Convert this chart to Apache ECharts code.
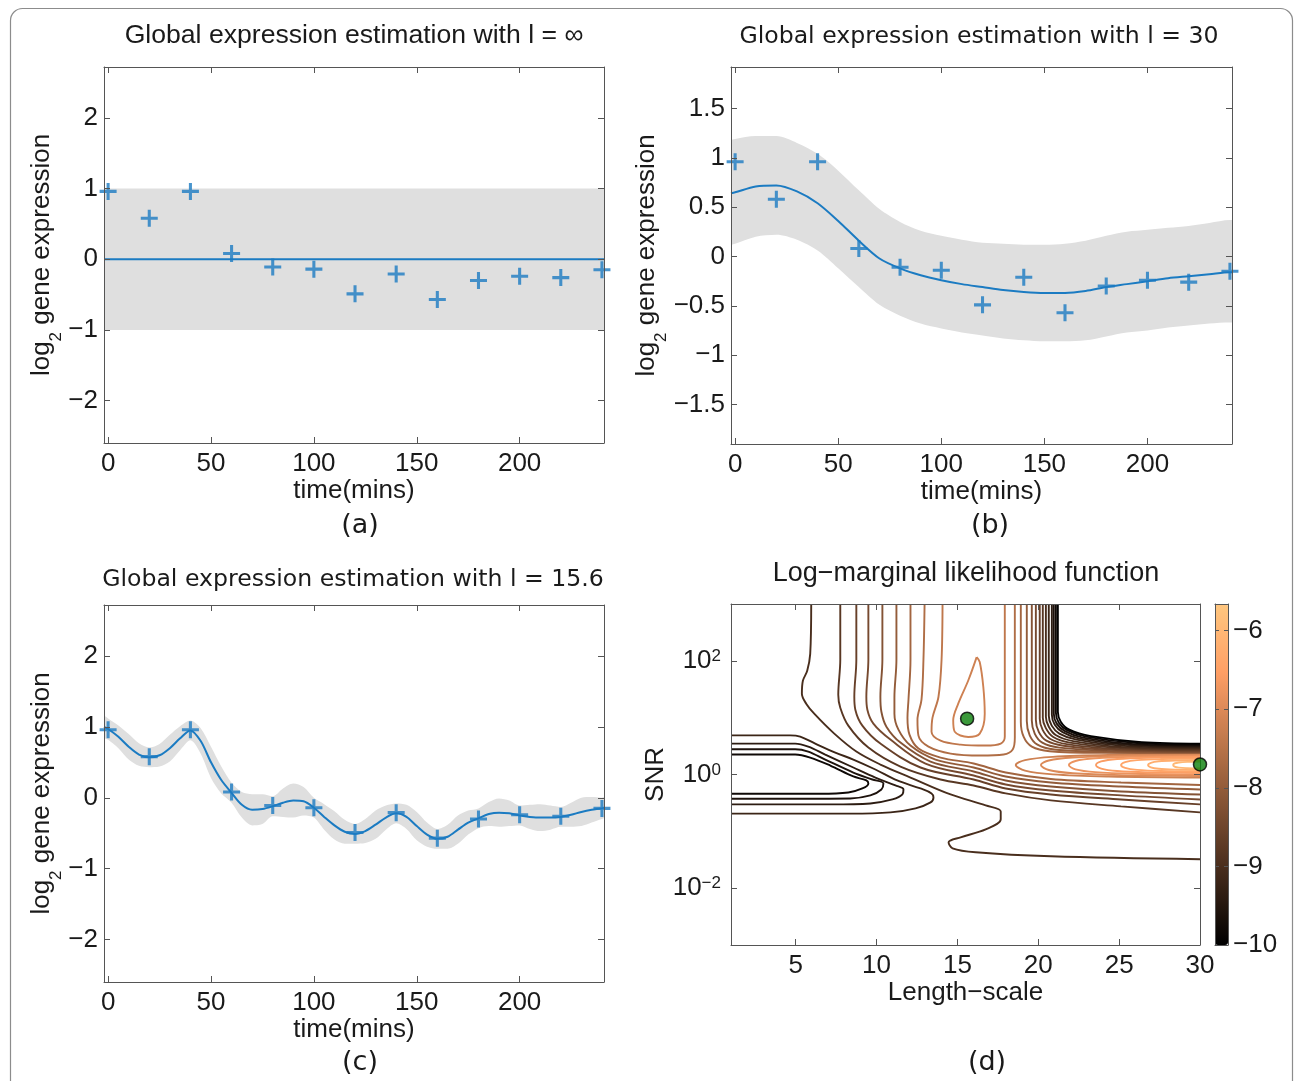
<!DOCTYPE html>
<html>
<head>
<meta charset="utf-8">
<script src="https://cdn.jsdelivr.net/npm/echarts@6.0.0/dist/echarts.min.js"></script>
<style>
html,body{margin:0;padding:0;background:#ffffff;}
#chart{width:1295px;height:1081px;}
</style>
</head>
<body>
<div id="chart"></div>
<script>
// ---------------- data ----------------
const timePoints = [0, 20, 40, 60, 80, 100, 120, 140, 160, 180, 200, 220, 240];
const expression = [0.96, 0.58, 0.96, 0.08, -0.11, -0.14, -0.49, -0.21, -0.57, -0.30, -0.24, -0.26, -0.15];

// (a) l = infinity
const timeA = [-2, 241];
const meanA = [0, 0];
const upperA = [1, 1];
const lowerA = [-1, -1];

// (b) l = 30
const timeB = [-2,0,10,20,30,40,50,60,70,80,90,100,110,120,130,140,150,160,170,180,190,200,210,220,230,240,241];
const meanB = [0.64,0.65,0.71,0.72,0.66,0.54,0.36,0.16,-0.02,-0.12,-0.19,-0.24,-0.28,-0.31,-0.34,-0.36,-0.37,-0.37,-0.35,-0.31,-0.28,-0.25,-0.22,-0.20,-0.18,-0.16,-0.16];
const upperB = [1.18,1.19,1.22,1.22,1.15,1.04,0.87,0.67,0.48,0.35,0.26,0.21,0.17,0.14,0.13,0.12,0.12,0.13,0.16,0.21,0.25,0.27,0.29,0.31,0.34,0.37,0.37];
const lowerB = [0.12,0.13,0.20,0.22,0.17,0.06,-0.12,-0.31,-0.49,-0.60,-0.68,-0.73,-0.77,-0.80,-0.83,-0.85,-0.86,-0.86,-0.85,-0.81,-0.77,-0.75,-0.72,-0.70,-0.68,-0.67,-0.67];

// (c) l = 15.6
const timeC = [-2,0,5,10,15,20,25,30,35,40,45,50,55,60,65,70,75,80,85,90,95,100,105,110,115,120,125,130,135,140,145,150,155,160,165,170,175,180,185,190,195,200,205,210,215,220,225,230,235,240,241];
const meanC = [1.0,0.97,0.86,0.72,0.61,0.57,0.60,0.70,0.84,0.95,0.80,0.50,0.25,0.07,-0.10,-0.17,-0.16,-0.12,-0.07,-0.04,-0.05,-0.14,-0.27,-0.39,-0.48,-0.51,-0.47,-0.38,-0.28,-0.22,-0.27,-0.40,-0.52,-0.58,-0.55,-0.45,-0.35,-0.29,-0.23,-0.21,-0.22,-0.25,-0.27,-0.28,-0.28,-0.27,-0.24,-0.20,-0.17,-0.15,-0.14];
const sdC = [0.16,0.15,0.16,0.18,0.16,0.14,0.16,0.19,0.17,0.14,0.18,0.22,0.19,0.14,0.18,0.22,0.21,0.14,0.20,0.24,0.20,0.14,0.18,0.20,0.17,0.14,0.17,0.20,0.17,0.14,0.17,0.20,0.17,0.14,0.17,0.20,0.17,0.14,0.17,0.20,0.18,0.14,0.17,0.19,0.17,0.14,0.17,0.20,0.18,0.15,0.15];

// tick labels
const timeTicks = [0, 50, 100, 150, 200];
const exprTicks = [-2, -1, 0, 1, 2];
const exprTicksB = [-1.5, -1, -0.5, 0, 0.5, 1, 1.5];
const lengthTicks = [5, 10, 15, 20, 25, 30];
const snrTicks = [0.01, 1, 100];
const colorbarTicks = [-10, -9, -8, -7, -6];

// (d) optima: [length-scale, SNR]
const optima = [[15.6, 9.6], [30, 1.5]];

// (d) contour lines: points are [length-scale, log10(SNR)]
const loopM98 = [[1,0.351],[4.968,0.351],[5.898,0.298],[7.138,0.158],[8.564,-0.035],[9.37,-0.105],[9.494,-0.158],[9.122,-0.246],[8.254,-0.316],[6.518,-0.339],[1,-0.339]];
const loopM96 = [[1,0.444],[4.968,0.444],[5.774,0.404],[6.828,0.263],[8.564,0.035],[9.742,-0.088],[10.424,-0.158],[10.30,-0.263],[9.617,-0.368],[8.377,-0.421],[5.278,-0.426],[1,-0.426]];
const loopM94 = [[1,0.544],[4.968,0.544],[5.774,0.491],[6.828,0.351],[8.564,0.123],[9.928,-0.053],[11.168,-0.193],[11.664,-0.263],[11.60,-0.351],[10.98,-0.439],[9.617,-0.509],[7.20,-0.526],[1,-0.526]];
const loopM92 = [[1,0.689],[4.658,0.689],[5.278,0.667],[6.208,0.544],[7.448,0.386],[8.564,0.263],[9.928,0.088],[11.278,-0.105],[12.718,-0.246],[13.40,-0.333],[13.52,-0.404],[13.34,-0.491],[12.41,-0.596],[10.86,-0.667],[8.377,-0.689],[1,-0.689]];
const lineM90 = [[5.96,3],[5.898,2.123],[5.712,1.825],[5.445,1.649],[5.383,1.421],[5.65,1.246],[6.146,1.07],[7.386,0.719],[8.75,0.404],[10.238,0.175],[12.098,-0.053],[14.578,-0.351],[16.748,-0.544],[17.678,-0.649],[17.678,-0.789],[16.748,-0.965],[15.198,-1.105],[14.454,-1.193],[14.702,-1.298],[16.128,-1.368],[20.777,-1.439],[30,-1.491]];
const leftM88 = [[7.757,3],[7.757,2.018],[7.633,1.404],[7.757,1.175],[8.253,0.86],[9.494,0.474],[11.477,0.14],[13.957,-0.088],[16.003,-0.193],[17.987,-0.333],[20.777,-0.456],[25.117,-0.561],[30,-0.667]];
const leftM86 = [[8.75,3],[8.75,2.018],[8.625,1.368],[8.688,1.14],[9.122,0.86],[10.237,0.544],[12.717,0.123],[16.003,-0.088],[17.987,-0.246],[20.777,-0.351],[25.117,-0.439],[30,-0.526]];
const leftM84 = [[9.494,3],[9.494,2.018],[9.369,1.368],[9.432,1.14],[9.804,0.895],[10.858,0.614],[13.027,0.193],[16.003,-0.018],[17.987,-0.175],[20.777,-0.281],[25.117,-0.368],[30,-0.439]];
const leftM82 = [[10.361,3],[10.361,2.018],[10.237,1.368],[10.299,1.105],[10.609,0.842],[11.477,0.561],[13.337,0.228],[16.003,0.053],[17.987,-0.105],[20.777,-0.211],[25.117,-0.298],[30,-0.351]];
const leftM80 = [[11.229,3],[11.229,2.018],[11.105,1.351],[11.105,1.07],[11.353,0.789],[12.098,0.509],[13.647,0.263],[16.003,0.123],[17.987,-0.035],[20.777,-0.14],[25.117,-0.211],[30,-0.263]];
const leftM78 = [[12.098,3],[12.098,2.018],[11.974,1.316],[11.912,1.0],[12.036,0.702],[12.593,0.456],[13.957,0.298],[16.003,0.193],[17.987,0.035],[20.777,-0.079],[25.117,-0.14],[30,-0.184]];
const arcM76 = [[12.97,3],[12.90,2.018],[12.78,1.316],[12.53,0.965],[12.59,0.684],[13.21,0.491],[14.58,0.368],[16.44,0.333],[17.86,0.351],[18.42,0.439],[18.55,0.649],[18.55,1.316],[18.55,3]];
const arcM74 = [[14.08,3],[14.02,2.018],[13.83,1.368],[13.46,1.0],[13.40,0.754],[13.96,0.596],[15.20,0.526],[16.75,0.509],[17.68,0.544],[17.93,0.667],[17.93,1.246],[17.93,3]];
const dropM72 = [[16.19,2.065],[15.67,1.654],[15.05,1.246],[14.74,0.953],[14.83,0.754],[15.67,0.661],[16.38,0.72],[16.69,1.07],[16.6,1.544],[16.38,1.98],[16.19,2.065]];
const capM72 = [[30,0.36],[24.34,0.344],[20.90,0.311],[19.18,0.254],[18.61,0.167],[19.18,0.068],[20.90,0.002],[24.34,-0.035],[30,-0.053]];
const capM70 = [[30,0.342],[25.12,0.328],[22.14,0.298],[20.65,0.246],[20.16,0.167],[20.65,0.079],[22.14,0.022],[25.12,-0.011],[30,-0.026]];
const capM68 = [[30,0.325],[25.99,0.312],[23.53,0.285],[22.30,0.238],[21.89,0.167],[22.30,0.091],[23.53,0.042],[25.99,0.014],[30,0.0]];
const capM66 = [[30,0.307],[26.82,0.296],[24.87,0.272],[23.89,0.230],[23.57,0.167],[23.89,0.104],[24.87,0.061],[26.82,0.037],[30,0.026]];
const capM64 = [[30,0.281],[27.60,0.272],[26.11,0.253],[25.37,0.218],[25.12,0.167],[25.37,0.116],[26.11,0.081],[27.60,0.061],[30,0.053]];
const capM62 = [[30,0.254],[28.43,0.247],[27.45,0.232],[26.96,0.206],[26.79,0.167],[26.96,0.127],[27.45,0.101],[28.43,0.086],[30,0.079]];
const capM60 = [[30,0.228],[29.21,0.223],[28.69,0.212],[28.43,0.195],[28.34,0.167],[28.43,0.139],[28.69,0.121],[29.21,0.111],[30,0.105]];
const rightM78 = [[18.92,3],[18.92,0.93],[19.1,0.66],[19.6,0.49],[20.7,0.41],[23.9,0.38],[30,0.377]];
const rightM80 = [[19.29,3],[19.29,0.94],[19.47,0.69],[19.95,0.525],[21.0,0.44],[24.2,0.396],[30,0.386]];
const rightM82 = [[19.60,3],[19.60,0.95],[19.78,0.72],[20.25,0.56],[21.3,0.472],[24.5,0.412],[30,0.395]];
const rightM84 = [[19.85,3],[19.85,0.965],[20.03,0.75],[20.5,0.595],[21.55,0.507],[24.8,0.43],[30,0.404]];
const rightM86 = [[20.09,3],[20.09,0.98],[20.27,0.785],[20.72,0.63],[21.75,0.535],[25.0,0.447],[30,0.421]];
const rightM88 = [[20.28,3],[20.28,1.0],[20.46,0.82],[20.9,0.665],[21.95,0.56],[25.1,0.465],[30,0.439]];
const rightM90 = [[20.47,3],[20.47,1.015],[20.65,0.84],[21.1,0.69],[22.15,0.588],[25.3,0.482],[30,0.456]];
const rightM92 = [[20.65,3],[20.65,1.035],[20.83,0.86],[21.3,0.72],[22.35,0.614],[25.5,0.5],[30,0.474]];
const rightM94 = [[20.84,3],[20.84,1.053],[21.02,0.877],[21.5,0.746],[22.55,0.632],[25.7,0.518],[30,0.491]];
const rightM96 = [[20.96,3],[20.96,1.07],[21.14,0.895],[21.65,0.763],[22.75,0.649],[25.9,0.535],[30,0.509]];
const rightM98 = [[21.09,3],[21.09,1.088],[21.27,0.912],[21.78,0.781],[22.95,0.667],[26.1,0.553],[30,0.526]];
const rightM100 = [[21.21,3],[21.21,1.105],[21.39,0.93],[21.92,0.789],[23.26,0.675],[26.4,0.57],[30,0.544]];

const contourLevels = [-9.8,-9.6,-9.4,-9.2,-9.0,-8.8,-8.6,-8.4,-8.2,-8.0,-7.8,-7.6,-7.4,-7.2,-7.2,-7.0,-6.8,-6.6,-6.4,-6.2,-6.0,-7.8,-8.0,-8.2,-8.4,-8.6,-8.8,-9.0,-9.2,-9.4,-9.6,-9.8,-10];
const contourPaths = [loopM98,loopM96,loopM94,loopM92,lineM90,leftM88,leftM86,leftM84,leftM82,leftM80,leftM78,arcM76,arcM74,dropM72,capM72,capM70,capM68,capM66,capM64,capM62,capM60,rightM78,rightM80,rightM82,rightM84,rightM86,rightM88,rightM90,rightM92,rightM94,rightM96,rightM98,rightM100];

const titleA = 'Global expression estimation with l = \u221e';
const titleB = 'Global expression estimation with l = 30';
const titleC = 'Global expression estimation with l = 15.6';
const titleD = 'Log\u2212marginal likelihood function';

// ---------------- styling helpers ----------------
const AXC = '#555555';
const TXT = '#1a1a1a';
const BLUE = '#1b7bc2';
const BAND = '#dfdfdf';
const FONT = '"Liberation Sans", Arial, Helvetica, sans-serif';
const FONT2 = '"DejaVu Sans", Verdana, sans-serif';
const CB_MIN = -10, CB_MAX = -5.66;

function copper(v) {
  const t = Math.max(0, Math.min(1, (v - CB_MIN) / (CB_MAX - CB_MIN)));
  const r = Math.min(1, 1.25 * t), g = 0.7812 * t, b = 0.4975 * t;
  return 'rgb(' + Math.round(r * 255) + ',' + Math.round(g * 255) + ',' + Math.round(b * 255) + ')';
}
function fmtNum(v) { return String(Math.round(v * 100) / 100).replace('-', '\u2212'); }
function fmtPow(v) {
  const e = Math.round(Math.log10(v));
  if (e % 2 !== 0) return '';
  return '{b|10}{s|' + (e < 0 ? '\u2212' + (-e) : String(e)) + '}';
}
const powRich = {
  b: {fontSize: 26, fontFamily: FONT, color: TXT, lineHeight: 26, verticalAlign: 'bottom', padding: [7, 0, 0, 0]},
  s: {fontSize: 17, fontFamily: FONT, color: TXT, lineHeight: 17, verticalAlign: 'top'}
};
const subRich = {
  a: {fontSize: 26, fontFamily: FONT, color: TXT, lineHeight: 26, verticalAlign: 'top'},
  s: {fontSize: 17, fontFamily: FONT, color: TXT, lineHeight: 17, verticalAlign: 'top', padding: [19, 0, 0, 0]}
};
const log2Name = '{a|log}{s|2}{a| gene expression}';

function boxAxes(dir, gridIndex, cfg) {
  const common = {
    gridIndex: gridIndex, type: cfg.type || 'value', min: cfg.min, max: cfg.max, z: 5,
    splitLine: {show: false},
    axisLine: {show: true, onZero: false, lineStyle: {color: AXC, width: 1}},
    axisTick: {show: true, inside: true, length: 6, customValues: cfg.ticks, lineStyle: {color: AXC, width: 1}}
  };
  if (cfg.type === 'log') common.logBase = 10;
  const labelCfg = {show: true, customValues: cfg.ticks, formatter: cfg.formatter || fmtNum,
    margin: cfg.margin, fontSize: 26, fontFamily: FONT, color: TXT};
  if (cfg.rich) labelCfg.rich = cfg.rich;
  const main = Object.assign({}, common, {
    position: dir === 'x' ? 'bottom' : 'left',
    axisLabel: labelCfg
  });
  if (cfg.name) {
    main.name = cfg.name;
    main.nameLocation = 'middle';
    main.nameGap = cfg.nameGap;
    main.nameTextStyle = {fontSize: 26, fontFamily: FONT, color: TXT};
    if (cfg.nameRich) main.nameTextStyle.rich = cfg.nameRich;
    if (dir === 'y') main.nameRotate = 90;
  }
  const other = Object.assign({}, common, {position: dir === 'x' ? 'top' : 'right', axisLabel: {show: false}});
  return [main, other];
}

// band: grey area from upper bound down, white area from lower bound down on top of it
function bandSeries(ai, times, lo, hi) {
  return [
    {type: 'line', xAxisIndex: ai, yAxisIndex: ai, data: times.map((t, i) => [t, hi[i]]),
      symbol: 'none', smooth: 0.3, lineStyle: {opacity: 0}, areaStyle: {color: BAND, opacity: 1, origin: 'start'}, silent: true, z: 1},
    {type: 'line', xAxisIndex: ai, yAxisIndex: ai, data: times.map((t, i) => [t, lo[i]]),
      symbol: 'none', smooth: 0.3, lineStyle: {opacity: 0}, areaStyle: {color: '#ffffff', opacity: 1, origin: 'start'}, silent: true, z: 2}
  ];
}
function meanSeries(ai, times, mean) {
  return {type: 'line', xAxisIndex: ai, yAxisIndex: ai, data: times.map((t, i) => [t, mean[i]]),
    symbol: 'none', smooth: 0.3, lineStyle: {color: BLUE, width: 2}, silent: true, z: 3};
}
const PLUS = 'path://M-1,-0.18H-0.18V-1H0.18V-0.18H1V0.18H0.18V1H-0.18V0.18H-1Z';
function markerSeries(ai) {
  return {type: 'scatter', xAxisIndex: ai, yAxisIndex: ai, data: timePoints.map((t, i) => [t, expression[i]]),
    symbol: PLUS, symbolSize: 17, itemStyle: {color: BLUE}, clip: false, silent: true, z: 4};
}

// ---------------- series ----------------
const series = [];
series.push(...bandSeries(0, timeA, lowerA, upperA));
series.push(meanSeries(0, timeA, meanA));
series.push(markerSeries(0));

series.push(...bandSeries(2, timeB, lowerB, upperB));
series.push(meanSeries(2, timeB, meanB));
series.push(markerSeries(2));

const upperC = meanC.map((m, i) => m + sdC[i]);
const lowerC = meanC.map((m, i) => m - sdC[i]);
series.push(...bandSeries(4, timeC, lowerC, upperC));
series.push(meanSeries(4, timeC, meanC));
series.push(markerSeries(4));

contourPaths.forEach((path, k) => {
  series.push({type: 'line', xAxisIndex: 6, yAxisIndex: 6,
    data: path.map(p => [p[0], Math.pow(10, p[1])]),
    symbol: 'none', smooth: 0.35, lineStyle: {color: copper(contourLevels[k]), width: 1.9}, silent: true, z: 2});
});
series.push({type: 'scatter', xAxisIndex: 6, yAxisIndex: 6, data: optima, symbol: 'circle', symbolSize: 13,
  itemStyle: {color: '#0a800a', borderColor: '#000', borderWidth: 1.5}, clip: false, silent: true, z: 6});

const cbSeriesIndex = series.length;
series.push({type: 'scatter', xAxisIndex: 8, yAxisIndex: 9, data: [], silent: true});

// ---------------- axes ----------------
const xAxes = [].concat(
  boxAxes('x', 0, {min: -2, max: 241, ticks: timeTicks, margin: 8, name: 'time(mins)', nameGap: 31}),
  boxAxes('x', 1, {min: -2, max: 241, ticks: timeTicks, margin: 8, name: 'time(mins)', nameGap: 31}),
  boxAxes('x', 2, {min: -2, max: 241, ticks: timeTicks, margin: 8, name: 'time(mins)', nameGap: 31}),
  boxAxes('x', 3, {min: 1, max: 30, ticks: lengthTicks, margin: 8, name: 'Length\u2212scale', nameGap: 32}),
  [
    {gridIndex: 4, type: 'value', min: 0, max: 1, position: 'bottom', z: 6, axisLine: {show: true, onZero: false, lineStyle: {color: AXC}}, axisTick: {show: false}, axisLabel: {show: false}, splitLine: {show: false}},
    {gridIndex: 4, type: 'value', min: 0, max: 1, position: 'top', z: 6, axisLine: {show: true, onZero: false, lineStyle: {color: AXC}}, axisTick: {show: false}, axisLabel: {show: false}, splitLine: {show: false}}
  ]
);
const yAxes = [].concat(
  boxAxes('y', 0, {min: -2.6, max: 2.72, ticks: exprTicks, margin: 6, name: log2Name, nameRich: subRich, nameGap: 41}),
  boxAxes('y', 1, {min: -1.9, max: 1.92, ticks: exprTicksB, margin: 6, name: log2Name, nameRich: subRich, nameGap: 43}),
  boxAxes('y', 2, {min: -2.6, max: 2.72, ticks: exprTicks, margin: 6, name: log2Name, nameRich: subRich, nameGap: 41}),
  boxAxes('y', 3, {type: 'log', min: 0.001, max: 1000, ticks: snrTicks, margin: 10, formatter: fmtPow, rich: powRich, name: 'SNR', nameGap: 61}),
  [
    {gridIndex: 4, type: 'value', min: CB_MIN, max: CB_MAX, position: 'left', z: 6, axisLine: {show: true, onZero: false, lineStyle: {color: AXC}},
      axisTick: {show: true, inside: true, length: 4, customValues: colorbarTicks, lineStyle: {color: AXC}}, axisLabel: {show: false}, splitLine: {show: false}},
    {gridIndex: 4, type: 'value', min: CB_MIN, max: CB_MAX, position: 'right', z: 6, axisLine: {show: true, onZero: false, lineStyle: {color: AXC}},
      axisTick: {show: true, inside: true, length: 4, customValues: colorbarTicks, lineStyle: {color: AXC}},
      axisLabel: {show: true, customValues: colorbarTicks, formatter: fmtNum, margin: 5, fontSize: 26, fontFamily: FONT, color: TXT}, splitLine: {show: false}}
  ]
);

const copperStops = [0, 0.1, 0.2, 0.3, 0.4, 0.5, 0.6, 0.7, 0.8, 0.9, 1].map(t => copper(CB_MIN + t * (CB_MAX - CB_MIN)));

function txt(x, y, text, size, family) {
  return {type: 'text', x: x, y: y, silent: true,
    style: {text: text, fontSize: size, fontFamily: family, fill: TXT, align: 'center', verticalAlign: 'middle', textAlign: 'center', textVerticalAlign: 'middle'}};
}

const option = {
  animation: false,
  backgroundColor: '#ffffff',
  textStyle: {fontFamily: FONT},
  grid: [
    {left: 104, top: 67, width: 500, height: 376},
    {left: 731, top: 67, width: 501, height: 377},
    {left: 104, top: 605, width: 500, height: 377},
    {left: 731, top: 604, width: 469, height: 341},
    {left: 1215, top: 604, width: 13, height: 341}
  ],
  xAxis: xAxes,
  yAxis: yAxes,
  visualMap: [{
    type: 'continuous', min: CB_MIN, max: CB_MAX, seriesIndex: [cbSeriesIndex], dimension: 1,
    inRange: {color: copperStops}, orient: 'vertical', left: 1215, top: 604, itemWidth: 13, itemHeight: 341,
    padding: 0, calculable: false, realtime: false, hoverLink: false, text: null, z: 3
  }],
  graphic: [
    {type: 'rect', silent: true, shape: {x: 10.5, y: 8.5, width: 1282, height: 1100, r: 12}, style: {fill: 'none', stroke: '#8c8c8c', lineWidth: 1.2}},
    txt(354, 36, titleA, 26.6, FONT),
    txt(979, 37, titleB, 23.6, FONT2),
    txt(353, 580, titleC, 23.6, FONT2),
    txt(966, 574, titleD, 27, FONT),
    txt(360, 526, '(a)', 27, FONT2),
    txt(990, 526, '(b)', 27, FONT2),
    txt(360, 1063, '(c)', 27, FONT2),
    txt(987, 1063, '(d)', 27, FONT2)
  ],
  series: series
};

const chart = echarts.init(document.getElementById('chart'), null, {renderer: 'canvas'});
chart.setOption(option);
</script>
</body>
</html>
